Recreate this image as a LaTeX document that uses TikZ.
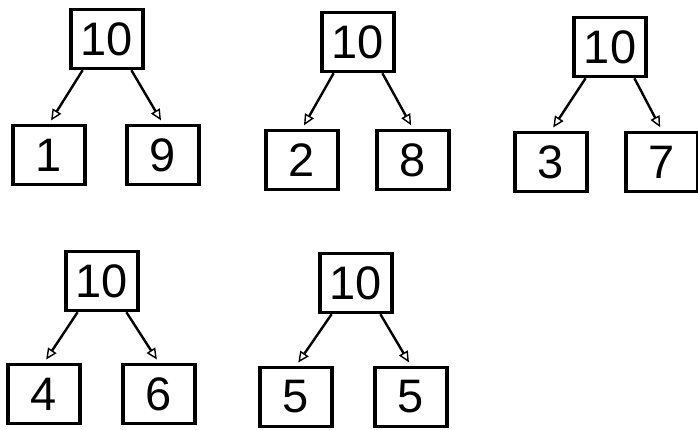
\documentclass[tikz,border=0pt]{standalone}
\usepackage{fontspec}
\setmainfont{Liberation Sans}
\usepackage{tikz}
\usetikzlibrary{
    arrows.meta
}

\tikzset{
    numbox/.style={draw, line width=3.4pt, minimum width=72pt, minimum height=59pt,
        inner sep=0pt, font=\fontsize{47}{47}\selectfont},
    split/.style={line width=2.4pt, -{Triangle[open, length=11pt, width=10pt, line width=1.4pt]},
        shorten >=4pt}
}

\begin{document}
\begin{tikzpicture}[x=1pt, y=-1pt]
\useasboundingbox (0,0) rectangle (698,430);

% First bond: 1 and 9
\node[numbox] (t1) at (107,39) {10};
\node[numbox] (t1l) at (49,155) {1};
\node[numbox] (t1r) at (163,155) {9};
\draw[split] (t1.232) -- (t1l.north);
\draw[split] (t1.308) -- (t1r.north);

% Second bond: 2 and 8
\node[numbox] (t2) at (358,42) {10};
\node[numbox] (t2l) at (302,160) {2};
\node[numbox] (t2r) at (413,160) {8};
\draw[split] (t2.232) -- (t2l.north);
\draw[split] (t2.308) -- (t2r.north);

% Third bond: 3 and 7
\node[numbox] (t3) at (610,47) {10};
\node[numbox] (t3l) at (551,162) {3};
\node[numbox] (t3r) at (662,162) {7};
\draw[split] (t3.232) -- (t3l.north);
\draw[split] (t3.308) -- (t3r.north);

% Fourth bond: 4 and 6
\node[numbox] (t4) at (102,281) {10};
\node[numbox] (t4l) at (44,394) {4};
\node[numbox] (t4r) at (159,394) {6};
\draw[split] (t4.232) -- (t4l.north);
\draw[split] (t4.308) -- (t4r.north);

% Fifth bond: 5 and 5
\node[numbox] (t5) at (356,283) {10};
\node[numbox] (t5l) at (296,397) {5};
\node[numbox] (t5r) at (411,397) {5};
\draw[split] (t5.232) -- (t5l.north);
\draw[split] (t5.308) -- (t5r.north);

\end{tikzpicture}
\end{document}
